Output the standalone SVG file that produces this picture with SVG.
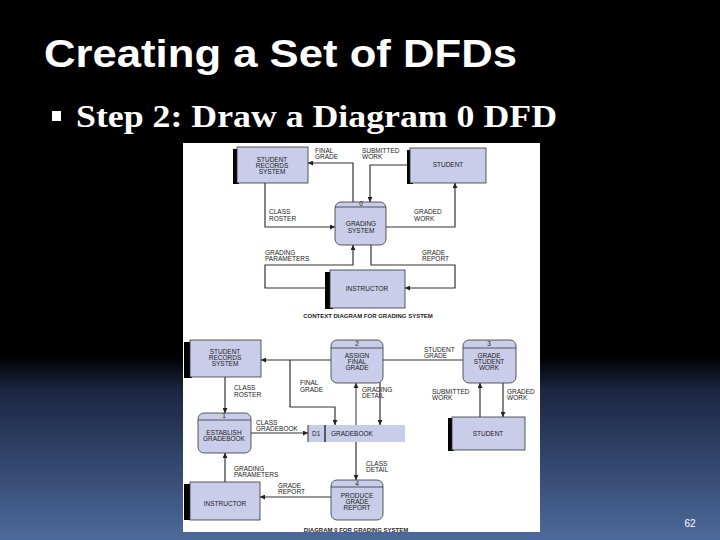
<svg xmlns="http://www.w3.org/2000/svg" width="720" height="540" viewBox="0 0 720 540">
<defs>
<linearGradient id="bg" x1="0" y1="0" x2="0" y2="1">
<stop offset="0" stop-color="#000"/><stop offset="0.66" stop-color="#000"/><stop offset="0.72" stop-color="#1a2540"/><stop offset="1" stop-color="#4d6a9c"/>
</linearGradient>
<marker id="ah" viewBox="0 0 10 10" refX="10" refY="5" markerWidth="5" markerHeight="5" markerUnits="userSpaceOnUse" orient="auto"><path d="M0,0 L10,5 L0,10 z" fill="#222"/></marker>
<style>
.b{fill:#c9cde9;stroke:#333;stroke-width:0.8}
.sh{fill:#000}
.l{fill:none;stroke:#333;stroke-width:1.2;marker-end:url(#ah)}
.t{font-family:"Liberation Sans",Arial,sans-serif;font-size:6.5px;fill:#222}
.c{text-anchor:middle}
</style>
</defs>
<rect width="720" height="540" fill="url(#bg)"/>
<text x="44" y="67" font-family="Liberation Sans,Arial,sans-serif" font-weight="bold" font-size="38" fill="#fff" textLength="473" lengthAdjust="spacingAndGlyphs">Creating a Set of DFDs</text>
<rect x="52" y="111" width="9" height="10" fill="#fff"/>
<text x="76" y="127" font-family="Liberation Serif,Times New Roman,serif" font-weight="bold" font-size="31" fill="#fff" textLength="481" lengthAdjust="spacingAndGlyphs">Step 2: Draw a Diagram 0 DFD</text>
<text x="690" y="527" font-family="Liberation Sans,Arial,sans-serif" font-size="10" fill="#fff" text-anchor="middle">62</text>
<rect x="183" y="143" width="357" height="389" fill="#fff"/>

<g id="connectors">
<path class="l" d="M353,202 L353,163 L308,163"/>
<path class="l" d="M410,165 L370,165 L370,202"/>
<path class="l" d="M265,183 L265,227 L335,227"/>
<path class="l" d="M386,227 L455,227 L455,183"/>
<path class="l" d="M325,288 L265,288 L265,265 L353,265 L353,245"/>
<path class="l" d="M371,245 L371,265 L455,265 L455,288 L405,288"/>
<path class="l" d="M331,360 L261,360"/>
<path class="l" d="M290,360 L290,407 L335,407 L335,425"/>
<path class="l" d="M356,425 L356,383" style="stroke:#999;stroke-width:2"/>
<path class="l" d="M463,360 L380,360 L380,425"/>
<path class="l" d="M480,417 L480,383"/>
<path class="l" d="M503,383 L503,417"/>
<path class="l" d="M225,377 L225,413"/>
<path class="l" d="M251,433 L308,433"/>
<path class="l" d="M225,482 L225,453"/>
<path class="l" d="M356,442 L356,480"/>
<path class="l" d="M331,497 L260,497"/>
</g>

<g id="ctx-srs"><rect class="sh" x="233" y="149" width="6" height="35"/><rect class="b" x="237" y="147" width="71" height="36"/><text class="t c" x="272" y="162">STUDENT</text><text class="t c" x="272" y="168">RECORDS</text><text class="t c" x="272" y="174">SYSTEM</text></g>
<g id="ctx-student"><rect class="sh" x="407" y="150" width="6" height="34"/><rect class="b" x="410" y="148" width="76" height="35"/><text class="t c" x="448" y="167">STUDENT</text></g>
<g id="ctx-grading"><rect class="b" x="335" y="202" width="51" height="43" rx="6"/><line x1="335" y1="207" x2="386" y2="207" stroke="#333" stroke-width="0.8"/><text class="t c" x="361" y="206">0</text><text class="t c" x="361" y="226">GRADING</text><text class="t c" x="361" y="233">SYSTEM</text></g>
<g id="ctx-instructor"><rect class="sh" x="325" y="272" width="8" height="37"/><rect class="b" x="330" y="270" width="75" height="38"/><text class="t c" x="367" y="291">INSTRUCTOR</text></g>
<g id="ctx-labels">
<text class="t" x="315" y="153">FINAL</text><text class="t" x="315" y="159">GRADE</text>
<text class="t" x="362" y="153">SUBMITTED</text><text class="t" x="362" y="159">WORK</text>
<text class="t" x="269" y="214">CLASS</text><text class="t" x="269" y="221">ROSTER</text>
<text class="t" x="414" y="214">GRADED</text><text class="t" x="414" y="221">WORK</text>
<text class="t" x="265" y="255">GRADING</text><text class="t" x="265" y="261">PARAMETERS</text>
<text class="t" x="422" y="255">GRADE</text><text class="t" x="422" y="261">REPORT</text>
<text class="t c" x="368" y="318" font-weight="bold" style="font-size:6px">CONTEXT DIAGRAM FOR GRADING SYSTEM</text>
</g>

<g id="d0-srs"><rect class="sh" x="184" y="342" width="8" height="36"/><rect class="b" x="190" y="340" width="71" height="37"/><text class="t c" x="225" y="354">STUDENT</text><text class="t c" x="225" y="360">RECORDS</text><text class="t c" x="225" y="366">SYSTEM</text></g>
<g id="d0-p2"><rect class="b" x="331" y="340" width="52" height="43" rx="6"/><line x1="331" y1="348" x2="383" y2="348" stroke="#333" stroke-width="0.8"/><text class="t c" x="357" y="346">2</text><text class="t c" x="357" y="358">ASSIGN</text><text class="t c" x="357" y="364">FINAL</text><text class="t c" x="357" y="370">GRADE</text></g>
<g id="d0-p3"><rect class="b" x="463" y="340" width="53" height="43" rx="6"/><line x1="463" y1="348" x2="516" y2="348" stroke="#333" stroke-width="0.8"/><text class="t c" x="489" y="346">3</text><text class="t c" x="489" y="358">GRADE</text><text class="t c" x="489" y="364">STUDENT</text><text class="t c" x="489" y="370">WORK</text></g>
<g id="d0-p1"><rect class="b" x="198" y="413" width="53" height="40" rx="6"/><line x1="198" y1="420" x2="251" y2="420" stroke="#333" stroke-width="0.8"/><text class="t c" x="224" y="418">1</text><text class="t c" x="224" y="435">ESTABLISH</text><text class="t c" x="224" y="441">GRADEBOOK</text></g>
<g id="d0-d1"><rect class="b" x="308" y="425" width="97" height="17" style="stroke:none"/><line x1="325" y1="425" x2="325" y2="442" stroke="#333" stroke-width="1.5"/><line x1="308" y1="425" x2="308" y2="442" stroke="#333"/><text class="t" x="312" y="436">D1</text><text class="t" x="331" y="436">GRADEBOOK</text></g>
<g id="d0-student"><rect class="sh" x="448" y="418" width="6" height="33"/><rect class="b" x="452" y="417" width="73" height="33"/><text class="t c" x="488" y="436">STUDENT</text></g>
<g id="d0-p4"><rect class="b" x="331" y="480" width="52" height="40" rx="6"/><line x1="331" y1="487" x2="383" y2="487" stroke="#333" stroke-width="0.8"/><text class="t c" x="357" y="486">4</text><text class="t c" x="357" y="498">PRODUCE</text><text class="t c" x="357" y="504">GRADE</text><text class="t c" x="357" y="510">REPORT</text></g>
<g id="d0-instructor"><rect class="sh" x="184" y="484" width="8" height="36"/><rect class="b" x="190" y="482" width="70" height="38"/><text class="t c" x="225" y="506">INSTRUCTOR</text></g>
<g id="d0-labels">
<text class="t" x="234" y="390">CLASS</text><text class="t" x="234" y="397">ROSTER</text>
<text class="t" x="300" y="385">FINAL</text><text class="t" x="300" y="392">GRADE</text>
<text class="t" x="362" y="392">GRADING</text><text class="t" x="362" y="398">DETAIL</text>
<text class="t" x="424" y="352">STUDENT</text><text class="t" x="424" y="358">GRADE</text>
<text class="t" x="432" y="394">SUBMITTED</text><text class="t" x="432" y="400">WORK</text>
<text class="t" x="507" y="394">GRADED</text><text class="t" x="507" y="400">WORK</text>
<text class="t" x="256" y="425">CLASS</text><text class="t" x="256" y="431">GRADEBOOK</text>
<text class="t" x="234" y="471">GRADING</text><text class="t" x="234" y="477">PARAMETERS</text>
<text class="t" x="366" y="466">CLASS</text><text class="t" x="366" y="472">DETAIL</text>
<text class="t" x="278" y="488">GRADE</text><text class="t" x="278" y="494">REPORT</text>
<text class="t c" x="356" y="532" font-weight="bold" style="font-size:6px">DIAGRAM 0 FOR GRADING SYSTEM</text>
</g>
</svg>
